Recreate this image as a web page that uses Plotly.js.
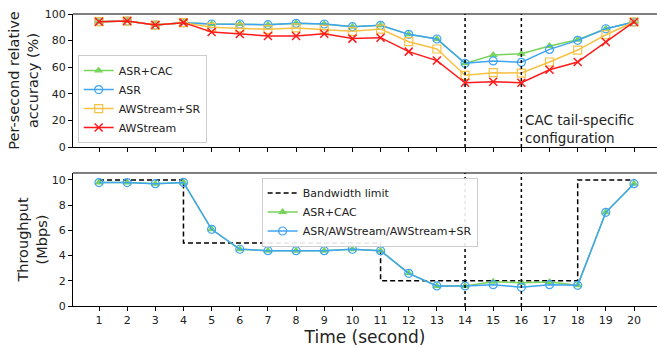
<!DOCTYPE html>
<html><head><meta charset="utf-8">
<script src="https://cdn.plot.ly/plotly-3.0.1.min.js"></script>
<style>html,body{margin:0;padding:0;overflow:hidden;background:#fff}#chart{width:657px;height:348px}</style>
</head><body><div id="chart"></div>
<script>
const timeSec = [1,2,3,4,5,6,7,8,9,10,11,12,13,14,15,16,17,18,19,20];
const accAsrCac   = [94.2,94.7,91.7,93.5,92.5,92.5,92.0,93.0,92.5,90.5,91.5,84.7,81.2,62.9,69.2,70.2,75.9,80.7,88.9,94.0];
const accAsr      = [94.2,94.7,91.7,93.5,92.5,92.5,92.0,93.0,92.5,90.5,91.5,84.7,81.2,62.9,64.7,63.7,73.4,80.2,88.9,94.0];
const accAwsSr    = [94.2,94.7,91.7,93.5,90.0,89.5,88.5,89.5,88.5,87.0,88.7,79.2,73.7,53.9,55.9,55.6,63.9,72.9,84.4,94.0];
const accAws      = [94.2,94.7,91.7,93.5,86.5,85.0,83.5,83.5,85.2,81.5,82.2,71.7,65.0,48.3,49.1,48.3,58.1,63.9,78.9,94.0];
const thrAsrCac   = [9.79,9.79,9.70,9.80,6.08,4.50,4.39,4.39,4.39,4.50,4.39,2.59,1.59,1.59,1.93,1.85,1.90,1.64,7.43,9.70];
const thrAsr      = [9.79,9.79,9.70,9.80,6.08,4.50,4.39,4.39,4.39,4.50,4.39,2.59,1.59,1.59,1.69,1.48,1.69,1.64,7.43,9.70];
const bwTime      = [1,4,11,18,20];
const bwLimit     = [10,5,2,10,10];
const markTimes   = [14,16];
const accTicks    = [0,20,40,60,80,100];
const thrTicks    = [0,2,4,6,8,10];

const GREEN='#77d35a', BLUE='#3fa4f3', ORANGE='#f6c244', RED='#ff1a1a';
const FONT='DejaVu Sans, sans-serif';

const traces = [
  {x:timeSec,y:accAsrCac,name:'ASR+CAC',mode:'lines+markers',line:{color:GREEN,width:1.5},marker:{symbol:'triangle-up',size:8,color:GREEN},xaxis:'x',yaxis:'y',legend:'legend'},
  {x:timeSec,y:accAsr,name:'ASR',mode:'lines+markers',line:{color:BLUE,width:1.5},marker:{symbol:'circle-open',size:8,color:BLUE,line:{width:1.2}},xaxis:'x',yaxis:'y',legend:'legend'},
  {x:timeSec,y:accAwsSr,name:'AWStream+SR',mode:'lines+markers',line:{color:ORANGE,width:1.5},marker:{symbol:'square-open',size:8,color:ORANGE,line:{width:1.2}},xaxis:'x',yaxis:'y',legend:'legend'},
  {x:timeSec,y:accAws,name:'AWStream',mode:'lines+markers',line:{color:RED,width:1.5},marker:{symbol:'x-thin-open',size:8,color:RED,line:{width:1.5,color:RED}},xaxis:'x',yaxis:'y',legend:'legend'},
  {x:bwTime,y:bwLimit,name:'Bandwidth limit',mode:'lines',line:{color:'#000',width:1.5,dash:'5px,3px',shape:'hv'},xaxis:'x2',yaxis:'y2',legend:'legend2'},
  {x:timeSec,y:thrAsrCac,name:'ASR+CAC',mode:'lines+markers',line:{color:GREEN,width:1.5},marker:{symbol:'triangle-up',size:8,color:GREEN},xaxis:'x2',yaxis:'y2',legend:'legend2'},
  {x:timeSec,y:thrAsr,name:'ASR/AWStream/AWStream+SR',mode:'lines+markers',line:{color:BLUE,width:1.5},marker:{symbol:'circle-open',size:8,color:BLUE,line:{width:1.2}},xaxis:'x2',yaxis:'y2',legend:'legend2'}
];

const shapes = [];
markTimes.forEach(t=>{
  shapes.push({type:'line',xref:'x',yref:'y domain',x0:t,x1:t,y0:0,y1:1,line:{color:'#000',width:1.5,dash:'dot'}});
  shapes.push({type:'line',xref:'x2',yref:'y2 domain',x0:t,x1:t,y0:0,y1:1,line:{color:'#000',width:1.5,dash:'dot'}});
});
shapes.push({type:'line',xref:'paper',yref:'y domain',x0:0,x1:1,y0:1,y1:1,line:{color:'#000',width:1}});
shapes.push({type:'line',xref:'paper',yref:'y2 domain',x0:0,x1:1,y0:1,y1:1,line:{color:'#000',width:1}});

const xr=[0.0766,20.817];
const axisCommon={showgrid:false,zeroline:false,showline:true,linecolor:'#000',linewidth:1,ticks:'outside',ticklen:4,tickcolor:'#000',tickfont:{family:FONT,size:11,color:'#222'}};

const layout={
  width:657,height:348,
  margin:{l:73,r:0,t:14,b:42},
  paper_bgcolor:'#fff',plot_bgcolor:'#fff',
  font:{family:FONT,color:'#222'},
  showlegend:true,
  xaxis:Object.assign({},axisCommon,{domain:[0,1],anchor:'y',range:xr,tickvals:timeSec,showticklabels:false}),
  yaxis:Object.assign({},axisCommon,{domain:[0.5445,1],anchor:'x',range:[0,100],tickvals:accTicks,
    title:{text:'Per-second relative<br>accuracy (%)',font:{family:FONT,size:14.5,color:'#222'},standoff:2}}),
  xaxis2:Object.assign({},axisCommon,{domain:[0,1],anchor:'y2',range:xr,tickvals:timeSec,
    title:{text:'Time (second)',font:{family:FONT,size:17,color:'#222'},standoff:0}}),
  yaxis2:Object.assign({},axisCommon,{domain:[0,0.4555],anchor:'x2',range:[0,10.55],tickvals:thrTicks,
    title:{text:'Throughput<br>(Mbps)',font:{family:FONT,size:14.5,color:'#222'},standoff:0}}),
  legend:{x:0.008,y:0.558,xanchor:'left',yanchor:'bottom',bgcolor:'rgba(255,255,255,0.9)',bordercolor:'#ccc',borderwidth:1,font:{family:FONT,size:11,color:'#222'},tracegroupgap:0,itemwidth:30},
  legend2:{x:0.323,y:0.44,xanchor:'left',yanchor:'top',bgcolor:'rgba(255,255,255,0.9)',bordercolor:'#ccc',borderwidth:1,font:{family:FONT,size:11,color:'#222'},tracegroupgap:0,itemwidth:30},
  shapes:shapes,
  annotations:[{xref:'x',yref:'y',x:16.05,y:28,xanchor:'left',yanchor:'top',align:'left',showarrow:false,
    text:'CAC tail-specific<br>configuration',font:{family:FONT,size:13.5,color:'#222'}}]
};
Plotly.newPlot('chart',traces,layout,{displayModeBar:false,staticPlot:true});
</script></body></html>
